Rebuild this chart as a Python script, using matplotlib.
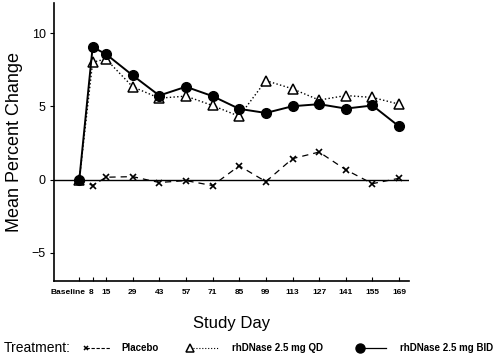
import matplotlib
matplotlib.use('Agg')
import matplotlib.pyplot as plt
import matplotlib.transforms as mtransforms
from matplotlib.lines import Line2D

plt.rcParams['font.family'] = ['Liberation Sans', 'DejaVu Sans']

# study days (baseline drawn at day 1)
days = [1, 8, 15, 29, 43, 57, 71, 85, 99, 113, 127, 141, 155, 169]
day_labels = ['Baseline', '8', '15', '29', '43', '57', '71', '85', '99',
              '113', '127', '141', '155', '169']

placebo = [0, -0.41, 0.16, 0.2, -0.2, -0.07, -0.41, 0.94, -0.14, 1.43, 1.88, 0.67, -0.28, 0.09]
qd = [0, 8.02, 8.23, 6.34, 5.56, 5.7, 5.06, 4.32, 6.76, 6.2, 5.43, 5.74, 5.61, 5.15]
bid = [0, 9.05, 8.57, 7.12, 5.74, 6.34, 5.7, 4.83, 4.55, 5.01, 5.15, 4.85, 5.06, 3.63]

fig = plt.figure(figsize=(5, 3.58), dpi=100)
ax = fig.add_axes([0.108, 0.215, 0.71, 0.777])

ax.axhline(0, color='black', lw=1.0, zorder=1)
ax.plot(days, placebo, color='black', ls=(0, (5, 4)), lw=0.9, marker='x',
        ms=4, mew=1.2, zorder=2)
ax.plot(days, qd, color='black', ls=':', lw=1.0, marker='^', ms=6.5,
        mfc='white', mec='black', mew=1.1, zorder=3)
ax.plot(days, bid, color='black', ls='-', lw=1.4, marker='o', ms=7,
        mfc='black', zorder=4)

ax.set_xlim(-12.3, 174.2)
ax.set_ylim(-6.93, 12.07)
ax.set_yticks([-5, 0, 5, 10])
ax.set_yticklabels(['\u22125', '0', '5', '10'])
ax.set_xticks(days)
ax.set_xticklabels(day_labels, fontsize=6, fontweight='bold')
ax.tick_params(axis='x', direction='in', length=3, width=0.8, pad=6)
ax.tick_params(axis='y', direction='out', length=3, width=0.8, labelsize=9, pad=3)

# squeeze "Baseline" and "8" apart like the original
xt = ax.get_xticklabels()
xt[0].set_horizontalalignment('right')
xt[0].set_transform(xt[0].get_transform() +
                    mtransforms.ScaledTranslation(6 / 100, 0, fig.dpi_scale_trans))
xt[1].set_transform(xt[1].get_transform() +
                    mtransforms.ScaledTranslation(-1.5 / 100, 0, fig.dpi_scale_trans))

for s in ['top', 'right']:
    ax.spines[s].set_visible(False)
for s in ['left', 'bottom']:
    ax.spines[s].set_linewidth(1.2)

ax.set_ylabel('Mean Percent Change', fontsize=13)
ax.yaxis.set_label_coords(-0.087, 0.5)
ax.set_xlabel('Study Day', fontsize=12, labelpad=14)

# legend row
fig.text(0.008, 0.028, 'Treatment:', fontsize=10, va='center', ha='left')
ly = 0.028
fig.add_artist(Line2D([0.172, 0.222], [ly, ly], color='black', ls=(0, (3, 1.5)), lw=0.8))
fig.add_artist(Line2D([0.172], [ly], color='black', marker='x', ms=3.5, mew=1.1))
fig.text(0.242, ly, 'Placebo', fontsize=7, fontweight='bold', va='center')
fig.add_artist(Line2D([0.38, 0.436], [ly, ly], color='black', ls=':', lw=0.8))
fig.add_artist(Line2D([0.38], [ly], color='black', marker='^', ms=5.5,
                      mfc='white', mew=1.1))
fig.text(0.464, ly, 'rhDNase 2.5 mg QD', fontsize=7, fontweight='bold', va='center')
fig.add_artist(Line2D([0.72, 0.772], [ly, ly], color='black', ls='-', lw=0.9))
fig.add_artist(Line2D([0.72], [ly], color='black', marker='o', ms=6.5))
fig.text(0.8, ly, 'rhDNase 2.5 mg BID', fontsize=7, fontweight='bold', va='center')

fig.savefig('out.png', dpi=100)
